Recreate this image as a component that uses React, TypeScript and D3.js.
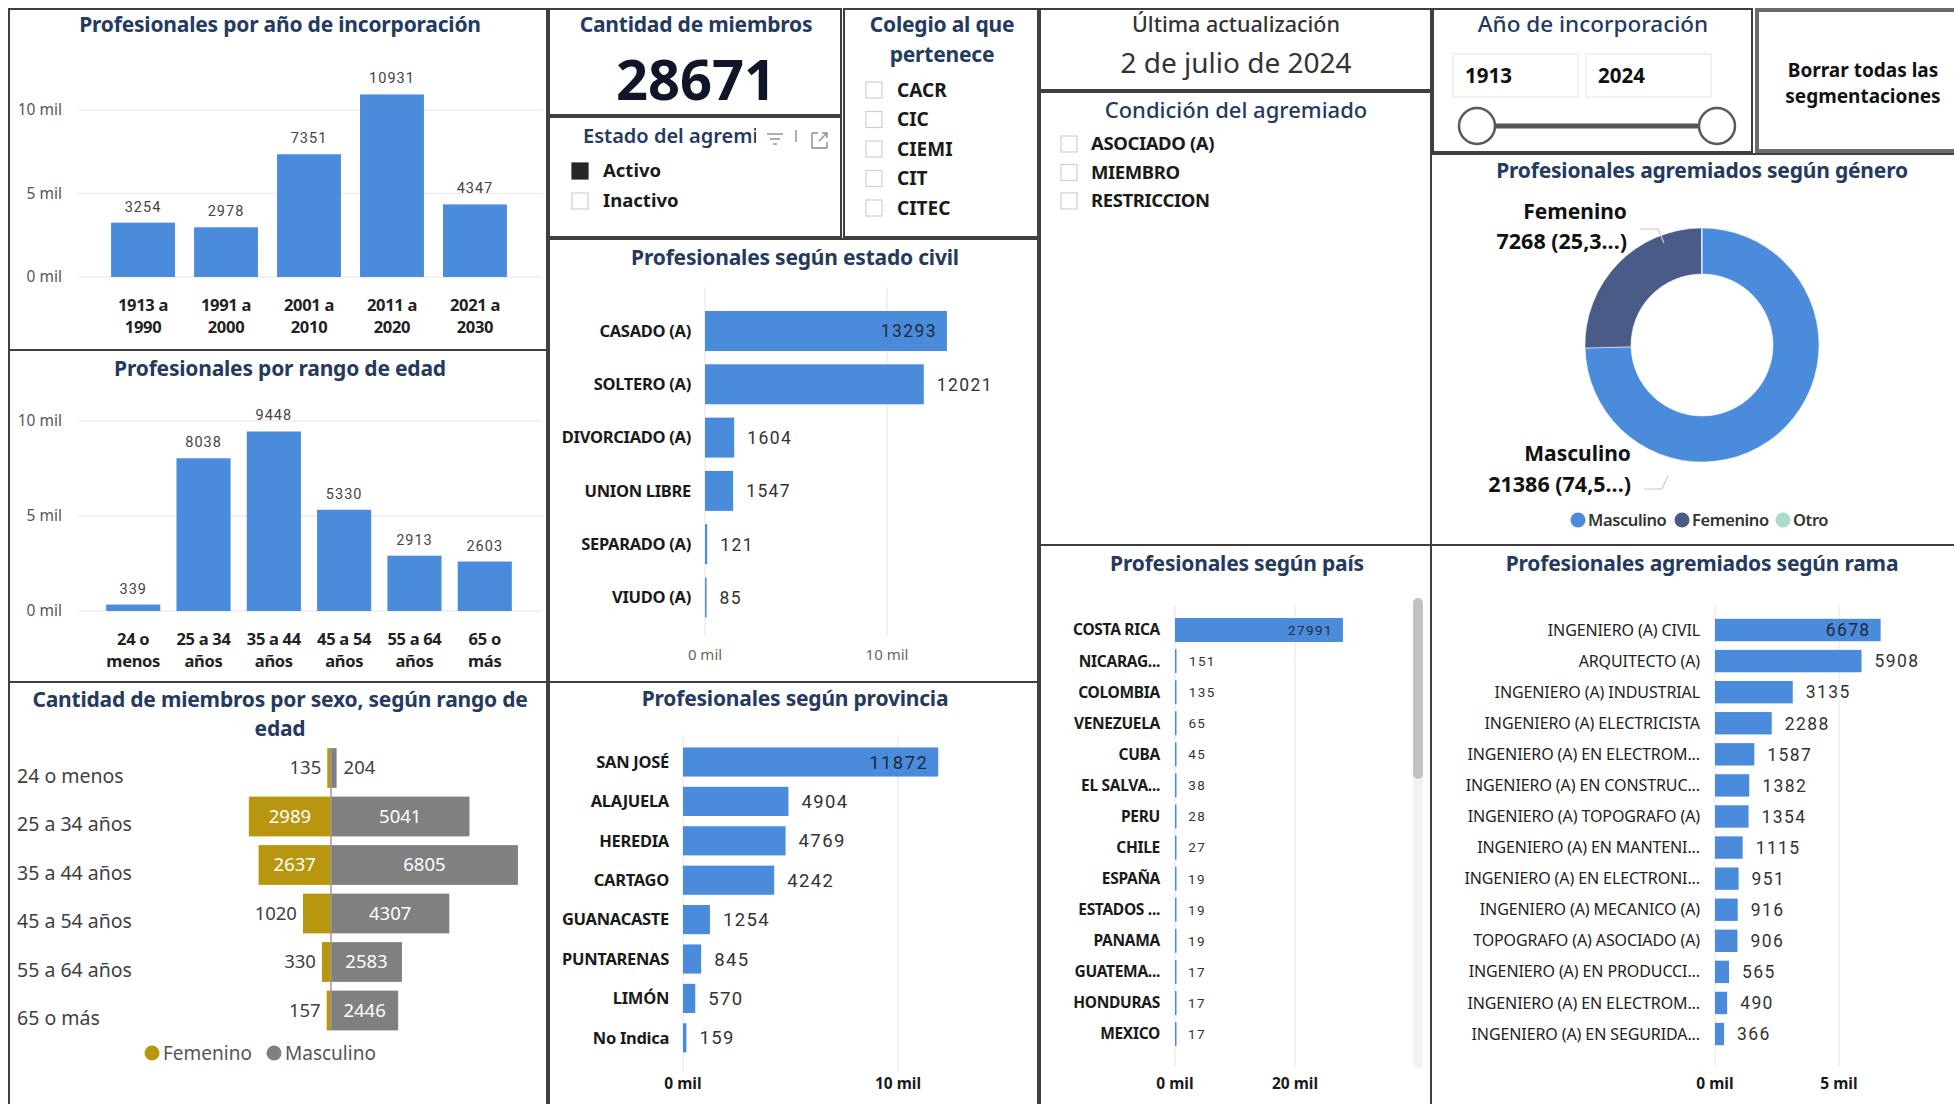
import React from 'react';
import * as d3 from 'd3';

// ---- data ----
const yearLabels = [['1913 a', '1990'], ['1991 a', '2000'], ['2001 a', '2010'], ['2011 a', '2020'], ['2021 a', '2030']];
const yearValues = [3254, 2978, 7351, 10931, 4347];

const ageLabels = [['24 o', 'menos'], ['25 a 34', 'años'], ['35 a 44', 'años'], ['45 a 54', 'años'], ['55 a 64', 'años'], ['65 o', 'más']];
const ageValues = [339, 8038, 9448, 5330, 2913, 2603];

const sexRanges = ['24 o menos', '25 a 34 años', '35 a 44 años', '45 a 54 años', '55 a 64 años', '65 o más'];
const femValues = [135, 2989, 2637, 1020, 330, 157];
const mascValues = [204, 5041, 6805, 4307, 2583, 2446];

const civilCats = ['CASADO (A)', 'SOLTERO (A)', 'DIVORCIADO (A)', 'UNION LIBRE', 'SEPARADO (A)', 'VIUDO (A)'];
const civilValues = [13293, 12021, 1604, 1547, 121, 85];

const provCats = ['SAN JOSÉ', 'ALAJUELA', 'HEREDIA', 'CARTAGO', 'GUANACASTE', 'PUNTARENAS', 'LIMÓN', 'No Indica'];
const provValues = [11872, 4904, 4769, 4242, 1254, 845, 570, 159];

const paisCats = ['COSTA RICA', 'NICARAG...', 'COLOMBIA', 'VENEZUELA', 'CUBA', 'EL SALVA...', 'PERU', 'CHILE', 'ESPAÑA', 'ESTADOS ...', 'PANAMA', 'GUATEMA...', 'HONDURAS', 'MEXICO'];
const paisValues = [27991, 151, 135, 65, 45, 38, 28, 27, 19, 19, 19, 17, 17, 17];

const ramaCats = [
  'INGENIERO (A) CIVIL', 'ARQUITECTO (A)', 'INGENIERO (A) INDUSTRIAL', 'INGENIERO (A) ELECTRICISTA',
  'INGENIERO (A) EN ELECTROM...', 'INGENIERO (A) EN CONSTRUC...', 'INGENIERO (A) TOPOGRAFO (A)',
  'INGENIERO (A) EN MANTENI...', 'INGENIERO (A) EN ELECTRONI...', 'INGENIERO (A) MECANICO (A)',
  'TOPOGRAFO (A) ASOCIADO (A)', 'INGENIERO (A) EN PRODUCCI...', 'INGENIERO (A) EN ELECTROM...',
  'INGENIERO (A) EN SEGURIDA...',
];
const ramaValues = [6678, 5908, 3135, 2288, 1587, 1382, 1354, 1115, 951, 916, 906, 565, 490, 366];

const genderCats = ['Masculino', 'Femenino', 'Otro'];
const genderValues = [21386, 7268, 17];
const genderColors = ['#4a8cdb', '#4a5b88', '#a8dcc8'];

const estados = ['Activo', 'Inactivo'];
const colegios = ['CACR', 'CIC', 'CIEMI', 'CIT', 'CITEC'];
const condiciones = ['ASOCIADO (A)', 'MIEMBRO', 'RESTRICCION'];
const yearRange = [1913, 2024];
const ultimaActualizacion = '2 de julio de 2024';

// ---- styles ----
const FONT = "'Noto Sans', 'Open Sans', sans-serif";
const NUM = "Roboto, 'Noto Sans', sans-serif";
const NAVY = '#243a5e';
const BLUE = '#4a8cdb';
const GOLD = '#b8960f';
const GRAY = '#808080';
const fmtMil = (d: number) => `${d / 1000} mil`;

const Panel = ({ x, y, w, h, sw = 2, stroke = '#3f3f3f' }: any) => (
  <rect x={x} y={y} width={w} height={h} fill="none" stroke={stroke} strokeWidth={sw} />
);

const Title = ({ x, y, children, size = 21, weight = 700, fill = NAVY }: any) => (
  <text x={x} y={y} textAnchor="middle" fontFamily={FONT} fontSize={size} fontWeight={weight} fill={fill}
    letterSpacing={-0.2}>
    {children}
  </text>
);

function VBarChart({ labels, values, range, yZero, yTop, gridX0, gridX1, tickX }: any) {
  const x = d3.scaleBand<number>().domain(d3.range(values.length)).range(range).padding(0.23);
  const y = d3.scaleLinear().domain([0, 10000]).range([yZero, yTop]);
  const ticks = [0, 5000, 10000];
  return (
    <g>
      {ticks.map((t) => (
        <g key={t}>
          <line x1={gridX0} x2={gridX1} y1={y(t)} y2={y(t)} stroke="#eeeeee" strokeWidth={1.5} />
          <text x={tickX} y={y(t)} dy="0.35em" textAnchor="end" fontFamily={FONT} fontSize={15.5} fill="#555">
            {fmtMil(t)}
          </text>
        </g>
      ))}
      {values.map((v: number, i: number) => (
        <g key={i}>
          <rect x={x(i)} y={y(v)} width={x.bandwidth()} height={yZero - y(v)} fill={BLUE} />
          <text x={(x(i) as number) + x.bandwidth() / 2} y={y(v) - 11} textAnchor="middle" fontFamily={NUM}
            fontSize={14.5} letterSpacing={1} fill="#444">{v}</text>
          {labels[i].map((l: string, j: number) => (
            <text key={j} x={(x(i) as number) + x.bandwidth() / 2} y={yZero + 34 + j * 22} textAnchor="middle"
              fontFamily={FONT} fontSize={16.5} fontWeight={700} letterSpacing={-0.3} fill="#222">{l}</text>
          ))}
        </g>
      ))}
    </g>
  );
}

function HBarChart({ cats, values, domainMax, x0, x1, c0, step, frac, labelX, catSize, catWeight = 700,
  catColor = '#1a1a1a', valSize, grid, tickY, tickBold }: any) {
  const n = values.length;
  const y = d3.scaleBand<number>().domain(d3.range(n)).range([c0 - step / 2, c0 - step / 2 + n * step])
    .paddingInner(1 - frac).paddingOuter((1 - frac) / 2);
  const x = d3.scaleLinear().domain([0, domainMax]).range([x0, x1]);
  const ticks = [0, domainMax];
  const max = d3.max(values) as number;
  return (
    <g>
      {ticks.map((t) => (
        <g key={t}>
          <line x1={x(t)} x2={x(t)} y1={grid[0]} y2={grid[1]} stroke="#eeeeee" strokeWidth={1.5} />
          <text x={x(t)} y={tickY} dy="0.35em" textAnchor="middle" fontFamily={FONT}
            fontSize={tickBold ? 15.5 : 15} fontWeight={tickBold ? 700 : 400} fill={tickBold ? '#1a1a1a' : '#666'}>
            {fmtMil(t)}
          </text>
        </g>
      ))}
      {values.map((v: number, i: number) => {
        const cy = (y(i) as number) + y.bandwidth() / 2;
        const inside = v === max;
        return (
          <g key={i}>
            <rect x={x0} y={y(i)} width={Math.max(1.5, x(v) - x0)} height={y.bandwidth()} fill={BLUE} />
            <text x={labelX} y={cy} dy="0.35em" textAnchor="end" fontFamily={FONT} fontSize={catSize}
              fontWeight={catWeight} letterSpacing={catWeight >= 600 ? -0.3 : -0.1} fill={catColor}>{cats[i]}</text>
            <text x={inside ? x(v) - 10 : x(v) + 13} y={cy} dy="0.36em" textAnchor={inside ? 'end' : 'start'}
              fontFamily={NUM} fontSize={valSize} letterSpacing={1.4} fill={inside ? '#1f2a3a' : '#333'}>{v}</text>
          </g>
        );
      })}
    </g>
  );
}

function Butterfly() {
  const axisX = 331;
  const w = d3.scaleLinear().domain([0, 10000]).range([0, 274.7]);
  const step = 48.5;
  const y = d3.scaleBand<number>().domain(d3.range(sexRanges.length))
    .range([768 - step / 2, 768 - step / 2 + sexRanges.length * step]).paddingInner(0.18).paddingOuter(0.09);
  const first = y(0) as number;
  const last = (y(sexRanges.length - 1) as number) + y.bandwidth();
  return (
    <g fontFamily={FONT}>
      {sexRanges.map((r, i) => {
        const top = y(i) as number;
        const cy = top + y.bandwidth() / 2;
        const fw = w(femValues[i]);
        const mw = w(mascValues[i]);
        const fIn = fw > 45;
        const mIn = mw > 45;
        return (
          <g key={r}>
            <text x={17} y={cy + 8} dy="0.35em" fontSize={19.5} fill="#404040">{r}</text>
            <rect x={axisX - fw} y={top} width={fw} height={y.bandwidth()} fill={GOLD} />
            <rect x={axisX} y={top} width={mw} height={y.bandwidth()} fill={GRAY} />
            <text x={fIn ? axisX - fw / 2 : axisX - fw - 6} y={cy} dy="0.35em" textAnchor={fIn ? 'middle' : 'end'}
              fontSize={18.5} fill={fIn ? '#fff' : '#404040'}>{femValues[i]}</text>
            <text x={mIn ? axisX + mw / 2 : axisX + mw + 7} y={cy} dy="0.35em" textAnchor={mIn ? 'middle' : 'start'}
              fontSize={18.5} fill={mIn ? '#fff' : '#404040'}>{mascValues[i]}</text>
          </g>
        );
      })}
      <line x1={axisX} x2={axisX} y1={first} y2={last} stroke="#9a9a9a" strokeWidth={1.5} />
      <circle cx={152} cy={1053} r={7.5} fill={GOLD} />
      <text x={163} y={1053} dy="0.35em" fontSize={19} fill="#555">Femenino</text>
      <circle cx={274} cy={1053} r={7.5} fill={GRAY} />
      <text x={285} y={1053} dy="0.35em" fontSize={19} fill="#555">Masculino</text>
    </g>
  );
}

function Donut() {
  const cx = 1702, cy = 345;
  const total = d3.sum(genderValues);
  const pie = d3.pie<number>().sort(null).startAngle(0).endAngle(2 * Math.PI)(genderValues);
  const arc = d3.arc<d3.PieArcDatum<number>>().innerRadius(71).outerRadius(117);
  const pct = (v: number) => `${v} (${(Math.floor((v / total) * 1000) / 10).toFixed(1).replace('.', ',')}...)`;
  const legendX = [1578, 1682, 1783];
  return (
    <g fontFamily={FONT}>
      {pie.map((p, i) => (
        <path key={i} d={arc(p) as string} transform={`translate(${cx},${cy})`} fill={genderColors[i]}
          stroke="#fff" strokeWidth={0.5} />
      ))}
      <polyline points="1640,229 1658,229 1664,243" fill="none" stroke="#c8c8c8" strokeWidth={1.2} />
      <polyline points="1644,489 1662,489 1668,476" fill="none" stroke="#c8c8c8" strokeWidth={1.2} />
      <text x={1627} y={212} dy="0.35em" textAnchor="end" fontSize={21} fontWeight={700} fill="#111">{genderCats[1]}</text>
      <text x={1627} y={241} dy="0.35em" textAnchor="end" fontSize={21.5} fontWeight={700} fill="#111">{pct(genderValues[1])}</text>
      <text x={1631} y={454} dy="0.35em" textAnchor="end" fontSize={21} fontWeight={700} fill="#111">{genderCats[0]}</text>
      <text x={1631} y={484} dy="0.35em" textAnchor="end" fontSize={21.5} fontWeight={700} fill="#111">{pct(genderValues[0])}</text>
      {genderCats.map((c, i) => (
        <g key={c}>
          <circle cx={legendX[i]} cy={520} r={7.5} fill={genderColors[i]} />
          <text x={legendX[i] + 10} y={520} dy="0.35em" fontSize={16.5} fontWeight={600} fill="#333" letterSpacing={-0.4}>{c}</text>
        </g>
      ))}
    </g>
  );
}

const Check = ({ x, y, filled = false }: any) => (
  <rect x={x} y={y} width={16} height={16} fill={filled ? '#262626' : '#fff'} stroke={filled ? '#262626' : '#cfcfcf'} strokeWidth={1.2} />
);

export default function App() {
  return (
    <div style={{ position: 'absolute', left: 0, top: 0 }}>
      <svg width={1954} height={1104} style={{ display: 'block', background: '#fff' }}>
        <defs>
          <clipPath id="estadoClip"><rect x={560} y={115} width={196} height={40} /></clipPath>
        </defs>

        {/* left column */}
        <Title x={280} y={32}>Profesionales por año de incorporación</Title>
        <VBarChart labels={yearLabels} values={yearValues} range={[92, 526]} yZero={277} yTop={110}
          gridX0={78} gridX1={543} tickX={62} />
        <Title x={280} y={376}>Profesionales por rango de edad</Title>
        <VBarChart labels={ageLabels} values={ageValues} range={[90, 528]} yZero={611} yTop={421}
          gridX0={78} gridX1={543} tickX={62} />
        <Title x={280} y={707}>Cantidad de miembros por sexo, según rango de</Title>
        <Title x={280} y={736}>edad</Title>
        <Butterfly />

        {/* card + slicers */}
        <Title x={696} y={32}>Cantidad de miembros</Title>
        <text x={696} y={100} textAnchor="middle" fontFamily={FONT} fontSize={56} fontWeight={700} fill="#0f1628">
          {d3.sum(genderValues)}
        </text>
        <text x={583} y={143} fontFamily={FONT} fontSize={20} fontWeight={600} fill={NAVY} clipPath="url(#estadoClip)">
          Estado del agremiado
        </text>
        <g stroke="#8a8a8a" strokeWidth={1.4} fill="none">
          <line x1={767} x2={783} y1={134} y2={134} />
          <line x1={770} x2={780} y1={139} y2={139} />
          <line x1={773} x2={777} y1={144} y2={144} />
          <line x1={796} x2={796} y1={130} y2={142} />
          <path d="M812,133 V148 H827 M818,133 H812 M827,142 V148 M819,141 L827,133 M822,133 H827 V138" />
        </g>
        {estados.map((e, i) => (
          <g key={e}>
            <Check x={572} y={163 + i * 30} filled={i === 0} />
            <text x={603} y={171 + i * 30} dy="0.35em" fontFamily={FONT} fontSize={18.5} fontWeight={700} fill="#1a1a1a">{e}</text>
          </g>
        ))}
        <Title x={942} y={32}>Colegio al que</Title>
        <Title x={942} y={62}>pertenece</Title>
        {colegios.map((c, i) => (
          <g key={c}>
            <Check x={866} y={82 + i * 29.5} />
            <text x={897} y={90 + i * 29.5} dy="0.35em" fontFamily={FONT} fontSize={19} fontWeight={700} fill="#1a1a1a">{c}</text>
          </g>
        ))}

        <Title x={795} y={265}>Profesionales según estado civil</Title>
        <HBarChart cats={civilCats} values={civilValues} domainMax={10000} x0={705} x1={887} c0={331} step={53.3}
          frac={0.75} labelX={691} catSize={16.5} valSize={17.5} grid={[287, 636]} tickY={655} tickBold={false} />

        <Title x={795} y={706}>Profesionales según provincia</Title>
        <HBarChart cats={provCats} values={provValues} domainMax={10000} x0={683} x1={898} c0={762} step={39.4}
          frac={0.74} labelX={669} catSize={16.5} valSize={18.5} grid={[735, 1072]} tickY={1084} tickBold />

        {/* third column */}
        <text x={1236} y={32} textAnchor="middle" fontFamily={FONT} fontSize={21.5} fontWeight={500} fill="#333">Última actualización</text>
        <text x={1236} y={73} textAnchor="middle" fontFamily={FONT} fontSize={28} fill="#333">{ultimaActualizacion}</text>
        <text x={1236} y={118} textAnchor="middle" fontFamily={FONT} fontSize={22} fontWeight={500} fill={NAVY}>Condición del agremiado</text>
        {condiciones.map((c, i) => (
          <g key={c}>
            <Check x={1061} y={136 + i * 28.5} />
            <text x={1091} y={144 + i * 28.5} dy="0.35em" fontFamily={FONT} fontSize={18.5} fontWeight={700}
              letterSpacing={-0.4} fill="#1a1a1a">{c}</text>
          </g>
        ))}

        <Title x={1237} y={571}>Profesionales según país</Title>
        <HBarChart cats={paisCats} values={paisValues} domainMax={20000} x0={1175} x1={1295} c0={630} step={31.08}
          frac={0.77} labelX={1160} catSize={15.5} valSize={13.5} grid={[605, 1067]} tickY={1084} tickBold />
        <rect x={1413} y={598} width={10} height={470} rx={5} fill="#f2f2f2" />
        <rect x={1413} y={598} width={10} height={181} rx={5} fill="#c2c2c2" />

        {/* fourth column */}
        <text x={1593} y={32} textAnchor="middle" fontFamily={FONT} fontSize={22.5} fontWeight={500} fill={NAVY}>Año de incorporación</text>
        {yearRange.map((yr, i) => (
          <g key={yr}>
            <rect x={1453 + i * 133} y={54} width={125} height={43} fill="#fff" stroke="#ececec" strokeWidth={1.5} />
            <text x={1465 + i * 133} y={76} dy="0.35em" fontFamily={FONT} fontSize={20.5} fontWeight={700} fill="#111">{yr}</text>
          </g>
        ))}
        <line x1={1477} x2={1717} y1={126} y2={126} stroke="#555" strokeWidth={5} />
        <circle cx={1477} cy={126} r={18} fill="#fff" stroke="#5a5a5a" strokeWidth={2.5} />
        <circle cx={1717} cy={126} r={18} fill="#fff" stroke="#5a5a5a" strokeWidth={2.5} />

        <text x={1863} y={70} dy="0.35em" textAnchor="middle" fontFamily={FONT} fontSize={19} fontWeight={700} fill="#111">Borrar todas las</text>
        <text x={1863} y={96} dy="0.35em" textAnchor="middle" fontFamily={FONT} fontSize={19} fontWeight={700} fill="#111">segmentaciones</text>

        <Title x={1702} y={178}>Profesionales agremiados según género</Title>
        <Donut />

        <Title x={1702} y={571}>Profesionales agremiados según rama</Title>
        <HBarChart cats={ramaCats} values={ramaValues} domainMax={5000} x0={1715} x1={1839} c0={630} step={31.08}
          frac={0.72} labelX={1700} catSize={16} catWeight={400} catColor="#222" valSize={17.5} grid={[605, 1067]}
          tickY={1084} tickBold />

        {/* panel borders */}
        <Panel x={9} y={9} w={538} h={341} />
        <Panel x={9} y={350} w={538} h={332} />
        <Panel x={9} y={682} w={538} h={430} />
        <Panel x={549} y={9} w={292} h={106} />
        <Panel x={549} y={117} w={292} h={120} />
        <Panel x={844} y={9} w={194} h={228} />
        <Panel x={549} y={239} w={489} h={443} />
        <Panel x={549} y={682} w={489} h={430} />
        <Panel x={1040} y={9} w={391} h={81} />
        <Panel x={1040} y={92} w={391} h={453} />
        <Panel x={1040} y={545} w={391} h={567} />
        <Panel x={1433} y={9} w={319} h={143} />
        <Panel x={1757} y={10} w={205} h={141} sw={4} stroke="#6b6b6b" />
        <Panel x={1431} y={154} w={530} h={391} />
        <Panel x={1431} y={545} w={530} h={567} />
      </svg>
    </div>
  );
}
